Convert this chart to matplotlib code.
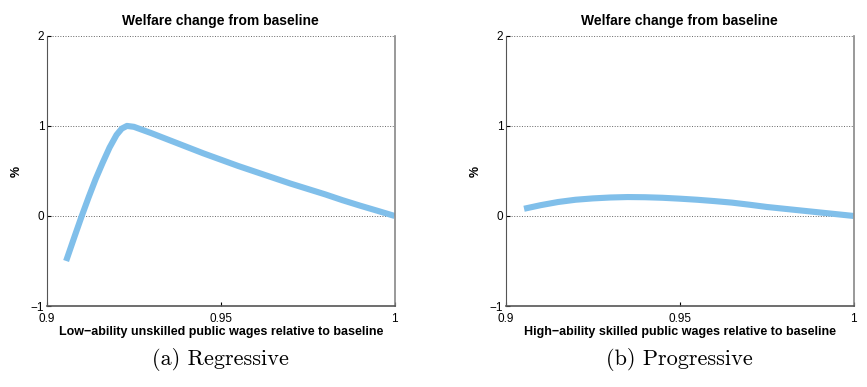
import matplotlib.pyplot as plt

# Welfare change (%) vs relative public wages
x_reg = [0.9055, 0.908, 0.910, 0.912, 0.914, 0.916, 0.918, 0.920, 0.9215, 0.923,
         0.925, 0.930, 0.935, 0.940, 0.945, 0.950, 0.955, 0.960, 0.965, 0.970,
         0.975, 0.980, 0.985, 0.990, 0.995, 1.0]
y_reg = [-0.50, -0.22, 0.0, 0.21, 0.41, 0.59, 0.76, 0.90, 0.97, 1.0,
         0.99, 0.92, 0.845, 0.77, 0.695, 0.625, 0.555, 0.49, 0.425, 0.36,
         0.30, 0.24, 0.175, 0.115, 0.058, 0.0]

x_prog = [0.9052, 0.910, 0.915, 0.920, 0.925, 0.930, 0.935, 0.940, 0.945, 0.950,
          0.955, 0.960, 0.965, 0.970, 0.975, 0.980, 0.985, 0.990, 0.995, 1.0]
y_prog = [0.08, 0.12, 0.155, 0.18, 0.195, 0.205, 0.21, 0.208, 0.202, 0.192,
          0.18, 0.165, 0.148, 0.125, 0.10, 0.08, 0.06, 0.04, 0.02, 0.0]

panels = [
    (x_reg, y_reg, 'Low\u2212ability unskilled public wages relative to baseline', '(a) Regressive'),
    (x_prog, y_prog, 'High\u2212ability skilled public wages relative to baseline', '(b) Progressive'),
]

plt.rcParams['font.family'] = ['Liberation Sans', 'DejaVu Sans']

fig = plt.figure(figsize=(8.67, 3.87), dpi=100)
lefts = [0.0542, 0.5836]

for left, (xs, ys, xlab, cap) in zip(lefts, panels):
    ax = fig.add_axes([left, 0.2093, 0.401, 0.698])
    ax.plot(xs, ys, color='#80bfea', linewidth=4.4, solid_capstyle='butt',
            solid_joinstyle='round')
    ax.set_xlim(0.9, 1.0)
    ax.set_ylim(-1, 2)
    ax.set_xticks([0.9, 0.95, 1.0])
    ax.set_xticklabels(['0.9', '0.95', '1'])
    ax.set_yticks([-1, 0, 1, 2])
    ax.set_yticklabels(['\u22121', '0', '1', '2'])
    ax.tick_params(direction='in', length=3, labelsize=8.5, width=0.8)
    ax.tick_params(axis='x', pad=5)
    ax.tick_params(axis='y', pad=2)
    ax.grid(True, axis='y', linestyle=':', color='#666666', linewidth=0.7)
    ax.spines['top'].set_visible(False)
    ax.spines['right'].set_color('#888888')
    ax.spines['right'].set_linewidth(1.2)
    ax.spines['left'].set_color('#555555')
    ax.spines['bottom'].set_color('#555555')
    ax.spines['bottom'].set_linewidth(1.2)
    ax.set_title('Welfare change from baseline', fontsize=10, fontweight='bold', pad=8)
    ax.set_xlabel(xlab, fontsize=9, fontweight='bold', labelpad=1)
    ax.set_ylabel('%', fontsize=9, fontweight='bold', labelpad=6)
    fig.text(left + 0.2, 0.072, cap, ha='center', va='center', fontsize=16,
             family=['cmr10', 'DejaVu Serif'])

fig.savefig('out.png', dpi=100)
